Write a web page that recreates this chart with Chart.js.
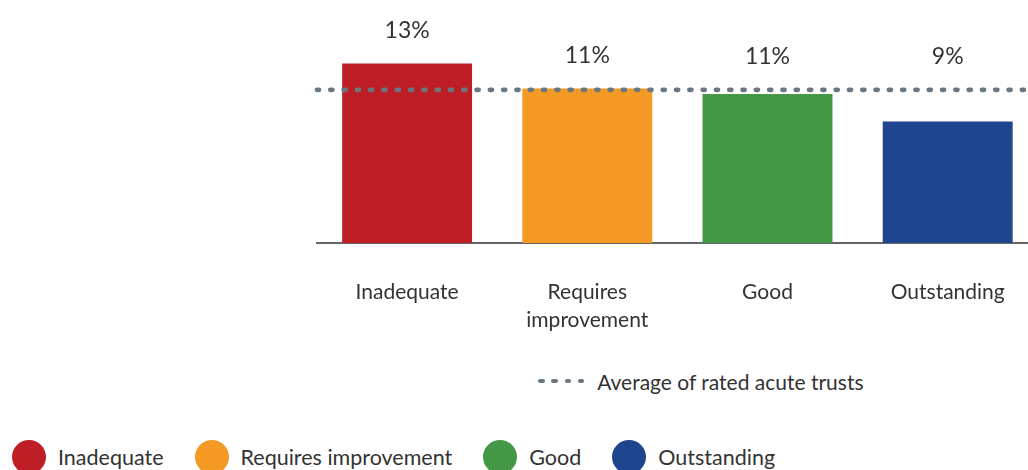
<!DOCTYPE html>
<html>
<head>
<meta charset="utf-8">
<script src="https://cdn.jsdelivr.net/npm/chart.js@4.4.1/dist/chart.umd.min.js"></script>
<style>
  html, body { margin: 0; padding: 0; background: #fff; overflow: hidden; width: 1028px; height: 470px; }
  body { position: relative; font-family: Lato, "Open Sans", sans-serif; color: #333; }
  #chart { position: absolute; left: 0; top: 0; }
  .avg-key { position: absolute; left: 538px; top: 367px; height: 28px; display: flex; align-items: center; font-size: 21px; }
  .avg-key .dot { width: 6.5px; height: 4.8px; border-radius: 3px; background: #6b7780; margin-right: 6.8px; }
  .avg-key .txt { margin-left: 6px; }
  .key { position: absolute; left: 12px; top: 440px; display: flex; align-items: center; font-size: 21.5px; }
  .key .item { display: flex; align-items: center; margin-right: 31px; }
  .key .swatch { width: 34px; height: 34px; border-radius: 50%; margin-right: 12px; }
</style>
</head>
<body>
<canvas id="chart" width="1040" height="340"></canvas>
<div class="avg-key" id="avg-key"></div>
<div class="key" id="key"></div>
<script>
const CATEGORIES   = ["Inadequate", ["Requires", "improvement"], "Good", "Outstanding"];
const KEY_NAMES    = ["Inadequate", "Requires improvement", "Good", "Outstanding"];
const VALUES       = [13.0, 11.2, 10.8, 8.8];
const AVERAGE      = 11.1;
const BAR_COLORS   = ["#be1f26", "#f49924", "#439745", "#20458f"];
const AVG_LABEL    = "Average of rated acute trusts";
const AVG_COLOR    = "#6b7780";

Chart.defaults.font.family = "Lato, 'Open Sans', sans-serif";
Chart.defaults.color = "#333";

// dotted average line, drawn over the bars
const avgLine = {
  id: "avgLine",
  afterDatasetsDraw(chart) {
    const { ctx, chartArea, scales: { y } } = chart;
    const py = y.getPixelForValue(AVERAGE);
    ctx.save();
    ctx.strokeStyle = AVG_COLOR;
    ctx.lineWidth = 4.8;
    ctx.lineCap = "round";
    ctx.setLineDash([2, 11.3]);
    ctx.beginPath();
    ctx.moveTo(chartArea.left, py);
    ctx.lineTo(chart.width, py);
    ctx.stroke();
    ctx.restore();
  }
};

// percentage labels, kept above the average line
const valueLabels = {
  id: "valueLabels",
  afterDraw(chart) {
    const ctx = chart.ctx;
    const avgY = chart.scales.y.getPixelForValue(AVERAGE);
    ctx.save();
    ctx.font = "23px Lato, 'Open Sans', sans-serif";
    ctx.fillStyle = "#333";
    ctx.textAlign = "center";
    ctx.textBaseline = "middle";
    chart.getDatasetMeta(0).data.forEach((bar, i) => {
      const top = Math.min(bar.y, avgY);
      ctx.fillText(Math.round(VALUES[i]) + "%", bar.x, top - 33);
    });
    ctx.restore();
  }
};

new Chart(document.getElementById("chart"), {
  type: "bar",
  data: {
    labels: CATEGORIES,
    datasets: [{
      data: VALUES,
      backgroundColor: BAR_COLORS,
      categoryPercentage: 0.721,
      barPercentage: 1
    }]
  },
  options: {
    responsive: false,
    animation: false,
    layout: { padding: { left: 317, right: 2, top: 36, bottom: 0 } },
    plugins: { legend: { display: false }, tooltip: { enabled: false } },
    scales: {
      y: { display: false, min: 0, max: 15 },
      x: {
        grid: { display: false, drawTicks: false },
        border: { display: true, color: "#666", width: 2 },
        ticks: { color: "#333", padding: 35, maxRotation: 0, autoSkip: false,
                 font: { size: 21, lineHeight: 1.333 } },
        afterFit(scale) { scale.height = 97; }
      }
    }
  },
  plugins: [avgLine, valueLabels]
});

// keys below the chart
const avgKey = document.getElementById("avg-key");
for (let i = 0; i < 4; i++) {
  const d = document.createElement("span");
  d.className = "dot";
  avgKey.appendChild(d);
}
const avgTxt = document.createElement("span");
avgTxt.className = "txt";
avgTxt.textContent = AVG_LABEL;
avgKey.appendChild(avgTxt);

const key = document.getElementById("key");
KEY_NAMES.forEach((name, i) => {
  const item = document.createElement("div");
  item.className = "item";
  item.innerHTML = `<span class="swatch" style="background:${BAR_COLORS[i]}"></span><span>${name}</span>`;
  key.appendChild(item);
});
</script>
</body>
</html>
